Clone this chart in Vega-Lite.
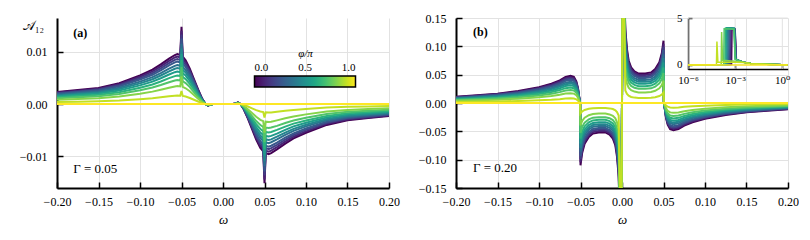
{
"$schema": "https://vega.github.io/schema/vega-lite/v6.json",
"background": "white",
"padding": {"left": 19, "top": 12, "right": 0, "bottom": 0},
"spacing": 18,
"config": {
  "font": "Liberation Serif, DejaVu Serif, serif",
  "view": {"stroke": null},
  "axis": {"labelFont": "Liberation Serif, DejaVu Serif, serif", "labelFontSize": 12, "labelColor": "black", "domainColor": "black", "domainWidth": 2, "tickColor": "black", "tickWidth": 1.5, "tickSize": -6, "gridColor": "#e2e2e2", "gridWidth": 1, "titleFont": "Liberation Serif, DejaVu Serif, serif", "titleFontWeight": "normal", "titleFontStyle": "italic", "titleFontSize": 13, "titleColor": "black", "labelFlush": false, "labelOverlap": false},
  "axisX": {"labelPadding": 14, "titlePadding": 6},
  "axisY": {"labelPadding": 16}
},
"resolve": {"scale": {"color": "independent"}},
"datasets": {
"phis": [{"key":"c00","phi":0},{"key":"c01","phi":0.0909},{"key":"c02","phi":0.1818},{"key":"c03","phi":0.2727},{"key":"c04","phi":0.3636},{"key":"c05","phi":0.4545},{"key":"c06","phi":0.5455},{"key":"c07","phi":0.6364},{"key":"c08","phi":0.7273},{"key":"c09","phi":0.8182},{"key":"c10","phi":0.9091},{"key":"c11","phi":1}],
"a": [
{"w":-0.2,"c00":0.0023,"c01":0.00219,"c02":0.00207,"c03":0.00196,"c04":0.00179,"c05":0.00166,"c06":0.0015,"c07":0.00131,"c08":0.0011,"c09":0.00083,"c10":0.00039,"c11":0},
{"w":-0.175,"c00":0.0027,"c01":0.00257,"c02":0.00243,"c03":0.0023,"c04":0.00211,"c05":0.00194,"c06":0.00176,"c07":0.00154,"c08":0.0013,"c09":0.00097,"c10":0.00046,"c11":0},
{"w":-0.15,"c00":0.0031,"c01":0.00295,"c02":0.00279,"c03":0.00264,"c04":0.00242,"c05":0.00223,"c06":0.00202,"c07":0.00177,"c08":0.00149,"c09":0.00112,"c10":0.00053,"c11":0},
{"w":-0.125,"c00":0.004,"c01":0.0038,"c02":0.0036,"c03":0.0034,"c04":0.00312,"c05":0.00288,"c06":0.0026,"c07":0.00228,"c08":0.00192,"c09":0.00144,"c10":0.00068,"c11":0},
{"w":-0.1,"c00":0.0055,"c01":0.00523,"c02":0.00495,"c03":0.00468,"c04":0.00429,"c05":0.00396,"c06":0.00358,"c07":0.00314,"c08":0.00264,"c09":0.00198,"c10":0.00094,"c11":0},
{"w":-0.085,"c00":0.0066,"c01":0.00627,"c02":0.00594,"c03":0.00561,"c04":0.00515,"c05":0.00475,"c06":0.00429,"c07":0.00376,"c08":0.00317,"c09":0.00238,"c10":0.00112,"c11":0},
{"w":-0.075,"c00":0.0076,"c01":0.00722,"c02":0.00684,"c03":0.00646,"c04":0.00593,"c05":0.00547,"c06":0.00494,"c07":0.00433,"c08":0.00365,"c09":0.00274,"c10":0.00129,"c11":0},
{"w":-0.065,"c00":0.0087,"c01":0.00827,"c02":0.00783,"c03":0.0074,"c04":0.00679,"c05":0.00626,"c06":0.00566,"c07":0.00496,"c08":0.00418,"c09":0.00313,"c10":0.00148,"c11":0},
{"w":-0.058,"c00":0.0094,"c01":0.00893,"c02":0.00846,"c03":0.00799,"c04":0.00733,"c05":0.00677,"c06":0.00611,"c07":0.00536,"c08":0.00451,"c09":0.00338,"c10":0.0016,"c11":0},
{"w":-0.055,"c00":0.0096,"c01":0.00912,"c02":0.00864,"c03":0.00816,"c04":0.00749,"c05":0.00691,"c06":0.00624,"c07":0.00547,"c08":0.00461,"c09":0.00346,"c10":0.00163,"c11":0},
{"w":-0.0515,"c00":0.0094,"c01":0.00893,"c02":0.00846,"c03":0.00799,"c04":0.00733,"c05":0.00677,"c06":0.00611,"c07":0.00536,"c08":0.00451,"c09":0.00338,"c10":0.0016,"c11":0},
{"w":-0.05,"c00":0.0148,"c01":0.01406,"c02":0.01332,"c03":0.01258,"c04":0.01154,"c05":0.01066,"c06":0.00962,"c07":0.00844,"c08":0.0071,"c09":0.00533,"c10":0.00252,"c11":0},
{"w":-0.0485,"c00":0.0091,"c01":0.00865,"c02":0.00819,"c03":0.00774,"c04":0.0071,"c05":0.00655,"c06":0.00592,"c07":0.00519,"c08":0.00437,"c09":0.00328,"c10":0.00155,"c11":0},
{"w":-0.045,"c00":0.0084,"c01":0.00798,"c02":0.00756,"c03":0.00714,"c04":0.00655,"c05":0.00605,"c06":0.00546,"c07":0.00479,"c08":0.00403,"c09":0.00302,"c10":0.00143,"c11":0},
{"w":-0.04,"c00":0.0068,"c01":0.00646,"c02":0.00612,"c03":0.00578,"c04":0.0053,"c05":0.0049,"c06":0.00442,"c07":0.00388,"c08":0.00326,"c09":0.00245,"c10":0.00116,"c11":0},
{"w":-0.035,"c00":0.0048,"c01":0.00456,"c02":0.00432,"c03":0.00408,"c04":0.00374,"c05":0.00346,"c06":0.00312,"c07":0.00274,"c08":0.0023,"c09":0.00173,"c10":0.00082,"c11":0},
{"w":-0.03,"c00":0.0028,"c01":0.00266,"c02":0.00252,"c03":0.00238,"c04":0.00218,"c05":0.00202,"c06":0.00182,"c07":0.0016,"c08":0.00134,"c09":0.00101,"c10":0.00048,"c11":0},
{"w":-0.025,"c00":0.001,"c01":0.00095,"c02":0.0009,"c03":0.00085,"c04":0.00078,"c05":0.00072,"c06":0.00065,"c07":0.00057,"c08":0.00048,"c09":0.00036,"c10":0.00017,"c11":0},
{"w":-0.021,"c00":0,"c01":0,"c02":0,"c03":0,"c04":0,"c05":0,"c06":0,"c07":0,"c08":0,"c09":0,"c10":0,"c11":0},
{"w":-0.018,"c00":-0.0003,"c01":-0.00029,"c02":-0.00027,"c03":-0.00026,"c04":-0.00023,"c05":-0.00022,"c06":-0.0002,"c07":-0.00017,"c08":-0.00014,"c09":-0.00011,"c10":-0.00005,"c11":0},
{"w":-0.015,"c00":-0.0001,"c01":-0.0001,"c02":-0.00009,"c03":-0.00009,"c04":-0.00008,"c05":-0.00007,"c06":-0.00007,"c07":-0.00006,"c08":-0.00005,"c09":-0.00004,"c10":-0.00002,"c11":0},
{"w":-0.012,"c00":0,"c01":0,"c02":0,"c03":0,"c04":0,"c05":0,"c06":0,"c07":0,"c08":0,"c09":0,"c10":0,"c11":0},
{"w":0,"c00":0,"c01":0,"c02":0,"c03":0,"c04":0,"c05":0,"c06":0,"c07":0,"c08":0,"c09":0,"c10":0,"c11":0},
{"w":0.012,"c00":0,"c01":0,"c02":0,"c03":0,"c04":0,"c05":0,"c06":0,"c07":0,"c08":0,"c09":0,"c10":0,"c11":0},
{"w":0.015,"c00":0.0001,"c01":0.0001,"c02":0.00009,"c03":0.00009,"c04":0.00008,"c05":0.00007,"c06":0.00007,"c07":0.00006,"c08":0.00005,"c09":0.00004,"c10":0.00002,"c11":0},
{"w":0.018,"c00":0.0003,"c01":0.00029,"c02":0.00027,"c03":0.00026,"c04":0.00023,"c05":0.00022,"c06":0.0002,"c07":0.00017,"c08":0.00014,"c09":0.00011,"c10":0.00005,"c11":0},
{"w":0.021,"c00":0,"c01":0,"c02":0,"c03":0,"c04":0,"c05":0,"c06":0,"c07":0,"c08":0,"c09":0,"c10":0,"c11":0},
{"w":0.025,"c00":-0.001,"c01":-0.00095,"c02":-0.0009,"c03":-0.00085,"c04":-0.00078,"c05":-0.00072,"c06":-0.00065,"c07":-0.00057,"c08":-0.00048,"c09":-0.00036,"c10":-0.00017,"c11":0},
{"w":0.03,"c00":-0.0028,"c01":-0.00266,"c02":-0.00252,"c03":-0.00238,"c04":-0.00218,"c05":-0.00202,"c06":-0.00182,"c07":-0.0016,"c08":-0.00134,"c09":-0.00101,"c10":-0.00048,"c11":0},
{"w":0.035,"c00":-0.0048,"c01":-0.00456,"c02":-0.00432,"c03":-0.00408,"c04":-0.00374,"c05":-0.00346,"c06":-0.00312,"c07":-0.00274,"c08":-0.0023,"c09":-0.00173,"c10":-0.00082,"c11":0},
{"w":0.04,"c00":-0.0068,"c01":-0.00646,"c02":-0.00612,"c03":-0.00578,"c04":-0.0053,"c05":-0.0049,"c06":-0.00442,"c07":-0.00388,"c08":-0.00326,"c09":-0.00245,"c10":-0.00116,"c11":0},
{"w":0.045,"c00":-0.0084,"c01":-0.00798,"c02":-0.00756,"c03":-0.00714,"c04":-0.00655,"c05":-0.00605,"c06":-0.00546,"c07":-0.00479,"c08":-0.00403,"c09":-0.00302,"c10":-0.00143,"c11":0},
{"w":0.0485,"c00":-0.0091,"c01":-0.00865,"c02":-0.00819,"c03":-0.00774,"c04":-0.0071,"c05":-0.00655,"c06":-0.00592,"c07":-0.00519,"c08":-0.00437,"c09":-0.00328,"c10":-0.00155,"c11":0},
{"w":0.05,"c00":-0.0152,"c01":-0.01444,"c02":-0.01368,"c03":-0.01292,"c04":-0.01186,"c05":-0.01094,"c06":-0.00988,"c07":-0.00866,"c08":-0.0073,"c09":-0.00547,"c10":-0.00258,"c11":0},
{"w":0.0515,"c00":-0.0094,"c01":-0.00893,"c02":-0.00846,"c03":-0.00799,"c04":-0.00733,"c05":-0.00677,"c06":-0.00611,"c07":-0.00536,"c08":-0.00451,"c09":-0.00338,"c10":-0.0016,"c11":0},
{"w":0.055,"c00":-0.0096,"c01":-0.00912,"c02":-0.00864,"c03":-0.00816,"c04":-0.00749,"c05":-0.00691,"c06":-0.00624,"c07":-0.00547,"c08":-0.00461,"c09":-0.00346,"c10":-0.00163,"c11":0},
{"w":0.058,"c00":-0.0094,"c01":-0.00893,"c02":-0.00846,"c03":-0.00799,"c04":-0.00733,"c05":-0.00677,"c06":-0.00611,"c07":-0.00536,"c08":-0.00451,"c09":-0.00338,"c10":-0.0016,"c11":0},
{"w":0.065,"c00":-0.0087,"c01":-0.00827,"c02":-0.00783,"c03":-0.0074,"c04":-0.00679,"c05":-0.00626,"c06":-0.00566,"c07":-0.00496,"c08":-0.00418,"c09":-0.00313,"c10":-0.00148,"c11":0},
{"w":0.075,"c00":-0.0076,"c01":-0.00722,"c02":-0.00684,"c03":-0.00646,"c04":-0.00593,"c05":-0.00547,"c06":-0.00494,"c07":-0.00433,"c08":-0.00365,"c09":-0.00274,"c10":-0.00129,"c11":0},
{"w":0.085,"c00":-0.0066,"c01":-0.00627,"c02":-0.00594,"c03":-0.00561,"c04":-0.00515,"c05":-0.00475,"c06":-0.00429,"c07":-0.00376,"c08":-0.00317,"c09":-0.00238,"c10":-0.00112,"c11":0},
{"w":0.1,"c00":-0.0055,"c01":-0.00523,"c02":-0.00495,"c03":-0.00468,"c04":-0.00429,"c05":-0.00396,"c06":-0.00358,"c07":-0.00314,"c08":-0.00264,"c09":-0.00198,"c10":-0.00094,"c11":0},
{"w":0.125,"c00":-0.004,"c01":-0.0038,"c02":-0.0036,"c03":-0.0034,"c04":-0.00312,"c05":-0.00288,"c06":-0.0026,"c07":-0.00228,"c08":-0.00192,"c09":-0.00144,"c10":-0.00068,"c11":0},
{"w":0.15,"c00":-0.0031,"c01":-0.00295,"c02":-0.00279,"c03":-0.00264,"c04":-0.00242,"c05":-0.00223,"c06":-0.00202,"c07":-0.00177,"c08":-0.00149,"c09":-0.00112,"c10":-0.00053,"c11":0},
{"w":0.175,"c00":-0.0027,"c01":-0.00257,"c02":-0.00243,"c03":-0.0023,"c04":-0.00211,"c05":-0.00194,"c06":-0.00176,"c07":-0.00154,"c08":-0.0013,"c09":-0.00097,"c10":-0.00046,"c11":0},
{"w":0.2,"c00":-0.0023,"c01":-0.00219,"c02":-0.00207,"c03":-0.00196,"c04":-0.00179,"c05":-0.00166,"c06":-0.0015,"c07":-0.00131,"c08":-0.0011,"c09":-0.00083,"c10":-0.00039,"c11":0}
],
"b": [
{"w":-0.2,"c00":0.011,"c01":0.0105,"c02":0.0099,"c03":0.0094,"c04":0.0086,"c05":0.0079,"c06":0.0072,"c07":0.0063,"c08":0.0053,"c09":0.004,"c10":0.0019,"c11":0},
{"w":-0.175,"c00":0.0135,"c01":0.0128,"c02":0.0122,"c03":0.0115,"c04":0.0105,"c05":0.0097,"c06":0.0088,"c07":0.0077,"c08":0.0065,"c09":0.0049,"c10":0.0023,"c11":0},
{"w":-0.15,"c00":0.0165,"c01":0.0157,"c02":0.0149,"c03":0.014,"c04":0.0129,"c05":0.0119,"c06":0.0107,"c07":0.0094,"c08":0.0079,"c09":0.0059,"c10":0.0028,"c11":0},
{"w":-0.125,"c00":0.021,"c01":0.02,"c02":0.0189,"c03":0.0179,"c04":0.0164,"c05":0.0151,"c06":0.0137,"c07":0.012,"c08":0.0101,"c09":0.0076,"c10":0.0036,"c11":0},
{"w":-0.1,"c00":0.028,"c01":0.0266,"c02":0.0252,"c03":0.0238,"c04":0.0218,"c05":0.0202,"c06":0.0182,"c07":0.016,"c08":0.0134,"c09":0.0101,"c10":0.0048,"c11":0},
{"w":-0.085,"c00":0.034,"c01":0.0323,"c02":0.0306,"c03":0.0289,"c04":0.0265,"c05":0.0245,"c06":0.0221,"c07":0.0194,"c08":0.0163,"c09":0.0122,"c10":0.0058,"c11":0},
{"w":-0.075,"c00":0.04,"c01":0.038,"c02":0.036,"c03":0.034,"c04":0.0312,"c05":0.0288,"c06":0.026,"c07":0.0228,"c08":0.0192,"c09":0.0144,"c10":0.0068,"c11":0},
{"w":-0.068,"c00":0.046,"c01":0.0437,"c02":0.0414,"c03":0.0391,"c04":0.0359,"c05":0.0331,"c06":0.0299,"c07":0.0262,"c08":0.0221,"c09":0.0166,"c10":0.0078,"c11":0},
{"w":-0.062,"c00":0.048,"c01":0.0456,"c02":0.0432,"c03":0.0408,"c04":0.0374,"c05":0.0346,"c06":0.0312,"c07":0.0274,"c08":0.023,"c09":0.0173,"c10":0.0082,"c11":0},
{"w":-0.058,"c00":0.046,"c01":0.0437,"c02":0.0414,"c03":0.0391,"c04":0.0359,"c05":0.0331,"c06":0.0299,"c07":0.0262,"c08":0.0221,"c09":0.0166,"c10":0.0078,"c11":0},
{"w":-0.055,"c00":0.038,"c01":0.0361,"c02":0.0342,"c03":0.0323,"c04":0.0296,"c05":0.0274,"c06":0.0247,"c07":0.0217,"c08":0.0182,"c09":0.0137,"c10":0.0065,"c11":0},
{"w":-0.053,"c00":0.026,"c01":0.0247,"c02":0.0234,"c03":0.0221,"c04":0.0203,"c05":0.0187,"c06":0.0169,"c07":0.0148,"c08":0.0125,"c09":0.0094,"c10":0.0044,"c11":0},
{"w":-0.0515,"c00":0.01,"c01":0.0095,"c02":0.009,"c03":0.0085,"c04":0.0078,"c05":0.0072,"c06":0.0065,"c07":0.0057,"c08":0.0048,"c09":0.0036,"c10":0.0017,"c11":0},
{"w":-0.0505,"c00":0,"c01":0,"c02":0,"c03":0,"c04":0,"c05":0,"c06":0,"c07":0,"c08":0,"c09":0,"c10":0,"c11":0},
{"w":-0.05,"c00":-0.11,"c01":-0.1045,"c02":-0.099,"c03":-0.0935,"c04":-0.0858,"c05":-0.0792,"c06":-0.0715,"c07":-0.0627,"c08":-0.0528,"c09":-0.0396,"c10":-0.0187,"c11":0},
{"w":-0.048,"c00":-0.088,"c01":-0.0836,"c02":-0.0792,"c03":-0.0748,"c04":-0.0686,"c05":-0.0634,"c06":-0.0572,"c07":-0.0502,"c08":-0.0422,"c09":-0.0317,"c10":-0.015,"c11":0},
{"w":-0.045,"c00":-0.072,"c01":-0.0684,"c02":-0.0648,"c03":-0.0612,"c04":-0.0562,"c05":-0.0518,"c06":-0.0468,"c07":-0.041,"c08":-0.0346,"c09":-0.0259,"c10":-0.0122,"c11":0},
{"w":-0.04,"c00":-0.06,"c01":-0.057,"c02":-0.054,"c03":-0.051,"c04":-0.0468,"c05":-0.0432,"c06":-0.039,"c07":-0.0342,"c08":-0.0288,"c09":-0.0216,"c10":-0.0102,"c11":0},
{"w":-0.035,"c00":-0.054,"c01":-0.0513,"c02":-0.0486,"c03":-0.0459,"c04":-0.0421,"c05":-0.0389,"c06":-0.0351,"c07":-0.0308,"c08":-0.0259,"c09":-0.0194,"c10":-0.0092,"c11":0},
{"w":-0.028,"c00":-0.052,"c01":-0.0494,"c02":-0.0468,"c03":-0.0442,"c04":-0.0406,"c05":-0.0374,"c06":-0.0338,"c07":-0.0296,"c08":-0.025,"c09":-0.0187,"c10":-0.0088,"c11":0},
{"w":-0.02,"c00":-0.052,"c01":-0.0494,"c02":-0.0468,"c03":-0.0442,"c04":-0.0406,"c05":-0.0374,"c06":-0.0338,"c07":-0.0296,"c08":-0.025,"c09":-0.0187,"c10":-0.0088,"c11":0},
{"w":-0.015,"c00":-0.056,"c01":-0.0532,"c02":-0.0504,"c03":-0.0476,"c04":-0.0437,"c05":-0.0403,"c06":-0.0364,"c07":-0.0319,"c08":-0.0269,"c09":-0.0202,"c10":-0.0095,"c11":0},
{"w":-0.011,"c00":-0.063,"c01":-0.0599,"c02":-0.0567,"c03":-0.0536,"c04":-0.0491,"c05":-0.0454,"c06":-0.041,"c07":-0.0359,"c08":-0.0302,"c09":-0.0227,"c10":-0.0107,"c11":0},
{"w":-0.008,"c00":-0.075,"c01":-0.0713,"c02":-0.0675,"c03":-0.0638,"c04":-0.0585,"c05":-0.054,"c06":-0.0488,"c07":-0.0428,"c08":-0.036,"c09":-0.027,"c10":-0.0128,"c11":0},
{"w":-0.006,"c00":-0.095,"c01":-0.0903,"c02":-0.0855,"c03":-0.0808,"c04":-0.0741,"c05":-0.0684,"c06":-0.0618,"c07":-0.0542,"c08":-0.0456,"c09":-0.0342,"c10":-0.0162,"c11":0},
{"w":-0.004,"c00":-0.13,"c01":-0.1235,"c02":-0.117,"c03":-0.1105,"c04":-0.1014,"c05":-0.0936,"c06":-0.0845,"c07":-0.0741,"c08":-0.0624,"c09":-0.0468,"c10":-0.0221,"c11":0},
{"w":-0.001,"c00":-0.3,"c01":-0.3,"c02":-0.3,"c03":-0.3,"c04":-0.3,"c05":-0.3,"c06":-0.3,"c07":-0.3,"c08":-0.3,"c09":-0.3,"c10":-0.3,"c11":0},
{"w":0.001,"c00":0.3,"c01":0.3,"c02":0.3,"c03":0.3,"c04":0.3,"c05":0.3,"c06":0.3,"c07":0.3,"c08":0.3,"c09":0.3,"c10":0.3,"c11":0},
{"w":0.004,"c00":0.13,"c01":0.1235,"c02":0.117,"c03":0.1105,"c04":0.1014,"c05":0.0936,"c06":0.0845,"c07":0.0741,"c08":0.0624,"c09":0.0468,"c10":0.0221,"c11":0},
{"w":0.006,"c00":0.095,"c01":0.0903,"c02":0.0855,"c03":0.0808,"c04":0.0741,"c05":0.0684,"c06":0.0618,"c07":0.0542,"c08":0.0456,"c09":0.0342,"c10":0.0162,"c11":0},
{"w":0.008,"c00":0.075,"c01":0.0713,"c02":0.0675,"c03":0.0638,"c04":0.0585,"c05":0.054,"c06":0.0488,"c07":0.0428,"c08":0.036,"c09":0.027,"c10":0.0128,"c11":0},
{"w":0.011,"c00":0.063,"c01":0.0599,"c02":0.0567,"c03":0.0536,"c04":0.0491,"c05":0.0454,"c06":0.041,"c07":0.0359,"c08":0.0302,"c09":0.0227,"c10":0.0107,"c11":0},
{"w":0.015,"c00":0.056,"c01":0.0532,"c02":0.0504,"c03":0.0476,"c04":0.0437,"c05":0.0403,"c06":0.0364,"c07":0.0319,"c08":0.0269,"c09":0.0202,"c10":0.0095,"c11":0},
{"w":0.02,"c00":0.052,"c01":0.0494,"c02":0.0468,"c03":0.0442,"c04":0.0406,"c05":0.0374,"c06":0.0338,"c07":0.0296,"c08":0.025,"c09":0.0187,"c10":0.0088,"c11":0},
{"w":0.028,"c00":0.052,"c01":0.0494,"c02":0.0468,"c03":0.0442,"c04":0.0406,"c05":0.0374,"c06":0.0338,"c07":0.0296,"c08":0.025,"c09":0.0187,"c10":0.0088,"c11":0},
{"w":0.035,"c00":0.054,"c01":0.0513,"c02":0.0486,"c03":0.0459,"c04":0.0421,"c05":0.0389,"c06":0.0351,"c07":0.0308,"c08":0.0259,"c09":0.0194,"c10":0.0092,"c11":0},
{"w":0.04,"c00":0.06,"c01":0.057,"c02":0.054,"c03":0.051,"c04":0.0468,"c05":0.0432,"c06":0.039,"c07":0.0342,"c08":0.0288,"c09":0.0216,"c10":0.0102,"c11":0},
{"w":0.045,"c00":0.072,"c01":0.0684,"c02":0.0648,"c03":0.0612,"c04":0.0562,"c05":0.0518,"c06":0.0468,"c07":0.041,"c08":0.0346,"c09":0.0259,"c10":0.0122,"c11":0},
{"w":0.048,"c00":0.088,"c01":0.0836,"c02":0.0792,"c03":0.0748,"c04":0.0686,"c05":0.0634,"c06":0.0572,"c07":0.0502,"c08":0.0422,"c09":0.0317,"c10":0.015,"c11":0},
{"w":0.05,"c00":0.11,"c01":0.1045,"c02":0.099,"c03":0.0935,"c04":0.0858,"c05":0.0792,"c06":0.0715,"c07":0.0627,"c08":0.0528,"c09":0.0396,"c10":0.0187,"c11":0},
{"w":0.0505,"c00":0,"c01":0,"c02":0,"c03":0,"c04":0,"c05":0,"c06":0,"c07":0,"c08":0,"c09":0,"c10":0,"c11":0},
{"w":0.0515,"c00":-0.01,"c01":-0.0095,"c02":-0.009,"c03":-0.0085,"c04":-0.0078,"c05":-0.0072,"c06":-0.0065,"c07":-0.0057,"c08":-0.0048,"c09":-0.0036,"c10":-0.0017,"c11":0},
{"w":0.053,"c00":-0.026,"c01":-0.0247,"c02":-0.0234,"c03":-0.0221,"c04":-0.0203,"c05":-0.0187,"c06":-0.0169,"c07":-0.0148,"c08":-0.0125,"c09":-0.0094,"c10":-0.0044,"c11":0},
{"w":0.055,"c00":-0.038,"c01":-0.0361,"c02":-0.0342,"c03":-0.0323,"c04":-0.0296,"c05":-0.0274,"c06":-0.0247,"c07":-0.0217,"c08":-0.0182,"c09":-0.0137,"c10":-0.0065,"c11":0},
{"w":0.058,"c00":-0.046,"c01":-0.0437,"c02":-0.0414,"c03":-0.0391,"c04":-0.0359,"c05":-0.0331,"c06":-0.0299,"c07":-0.0262,"c08":-0.0221,"c09":-0.0166,"c10":-0.0078,"c11":0},
{"w":0.062,"c00":-0.048,"c01":-0.0456,"c02":-0.0432,"c03":-0.0408,"c04":-0.0374,"c05":-0.0346,"c06":-0.0312,"c07":-0.0274,"c08":-0.023,"c09":-0.0173,"c10":-0.0082,"c11":0},
{"w":0.068,"c00":-0.046,"c01":-0.0437,"c02":-0.0414,"c03":-0.0391,"c04":-0.0359,"c05":-0.0331,"c06":-0.0299,"c07":-0.0262,"c08":-0.0221,"c09":-0.0166,"c10":-0.0078,"c11":0},
{"w":0.075,"c00":-0.04,"c01":-0.038,"c02":-0.036,"c03":-0.034,"c04":-0.0312,"c05":-0.0288,"c06":-0.026,"c07":-0.0228,"c08":-0.0192,"c09":-0.0144,"c10":-0.0068,"c11":0},
{"w":0.085,"c00":-0.034,"c01":-0.0323,"c02":-0.0306,"c03":-0.0289,"c04":-0.0265,"c05":-0.0245,"c06":-0.0221,"c07":-0.0194,"c08":-0.0163,"c09":-0.0122,"c10":-0.0058,"c11":0},
{"w":0.1,"c00":-0.028,"c01":-0.0266,"c02":-0.0252,"c03":-0.0238,"c04":-0.0218,"c05":-0.0202,"c06":-0.0182,"c07":-0.016,"c08":-0.0134,"c09":-0.0101,"c10":-0.0048,"c11":0},
{"w":0.125,"c00":-0.021,"c01":-0.02,"c02":-0.0189,"c03":-0.0179,"c04":-0.0164,"c05":-0.0151,"c06":-0.0137,"c07":-0.012,"c08":-0.0101,"c09":-0.0076,"c10":-0.0036,"c11":0},
{"w":0.15,"c00":-0.0165,"c01":-0.0157,"c02":-0.0149,"c03":-0.014,"c04":-0.0129,"c05":-0.0119,"c06":-0.0107,"c07":-0.0094,"c08":-0.0079,"c09":-0.0059,"c10":-0.0028,"c11":0},
{"w":0.175,"c00":-0.0135,"c01":-0.0128,"c02":-0.0122,"c03":-0.0115,"c04":-0.0105,"c05":-0.0097,"c06":-0.0088,"c07":-0.0077,"c08":-0.0065,"c09":-0.0049,"c10":-0.0023,"c11":0},
{"w":0.2,"c00":-0.011,"c01":-0.0105,"c02":-0.0099,"c03":-0.0094,"c04":-0.0086,"c05":-0.0079,"c06":-0.0072,"c07":-0.0063,"c08":-0.0053,"c09":-0.004,"c10":-0.0019,"c11":0}
],
"ins": [
{"key":"c00","x":0.000001,"v":0},{"key":"c00","x":0.000589,"v":0.05},{"key":"c00","x":0.000631,"v":3.8},{"key":"c00","x":0.001,"v":3.75},{"key":"c00","x":0.0012,"v":0.6},{"key":"c00","x":0.00316,"v":0.3},{"key":"c00","x":0.01,"v":0.15},{"key":"c00","x":0.1,"v":0.08},{"key":"c00","x":1,"v":0.03},{"key":"c00","x":2.2,"v":0.02},
{"key":"c01","x":0.000001,"v":0},{"key":"c01","x":0.000513,"v":0.05},{"key":"c01","x":0.00055,"v":3.85},{"key":"c01","x":0.000977,"v":3.8},{"key":"c01","x":0.00117,"v":0.6},{"key":"c01","x":0.00316,"v":0.3},{"key":"c01","x":0.01,"v":0.15},{"key":"c01","x":0.1,"v":0.08},{"key":"c01","x":1,"v":0.03},{"key":"c01","x":2.2,"v":0.02},
{"key":"c02","x":0.000001,"v":0},{"key":"c02","x":0.000447,"v":0.05},{"key":"c02","x":0.000479,"v":3.9},{"key":"c02","x":0.000955,"v":3.85},{"key":"c02","x":0.00115,"v":0.6},{"key":"c02","x":0.00316,"v":0.3},{"key":"c02","x":0.01,"v":0.15},{"key":"c02","x":0.1,"v":0.08},{"key":"c02","x":1,"v":0.03},{"key":"c02","x":2.2,"v":0.02},
{"key":"c03","x":0.000001,"v":0},{"key":"c03","x":0.000389,"v":0.05},{"key":"c03","x":0.000417,"v":3.9},{"key":"c03","x":0.000933,"v":3.85},{"key":"c03","x":0.00112,"v":0.6},{"key":"c03","x":0.00316,"v":0.3},{"key":"c03","x":0.01,"v":0.15},{"key":"c03","x":0.1,"v":0.08},{"key":"c03","x":1,"v":0.03},{"key":"c03","x":2.2,"v":0.02},
{"key":"c04","x":0.000001,"v":0},{"key":"c04","x":0.000339,"v":0.05},{"key":"c04","x":0.000363,"v":3.95},{"key":"c04","x":0.000912,"v":3.9},{"key":"c04","x":0.0011,"v":0.6},{"key":"c04","x":0.00316,"v":0.3},{"key":"c04","x":0.01,"v":0.15},{"key":"c04","x":0.1,"v":0.08},{"key":"c04","x":1,"v":0.03},{"key":"c04","x":2.2,"v":0.02},
{"key":"c05","x":0.000001,"v":0},{"key":"c05","x":0.000295,"v":0.05},{"key":"c05","x":0.000316,"v":3.95},{"key":"c05","x":0.000891,"v":3.9},{"key":"c05","x":0.00107,"v":0.6},{"key":"c05","x":0.00316,"v":0.3},{"key":"c05","x":0.01,"v":0.15},{"key":"c05","x":0.1,"v":0.08},{"key":"c05","x":1,"v":0.03},{"key":"c05","x":2.2,"v":0.02},
{"key":"c06","x":0.000001,"v":0},{"key":"c06","x":0.000257,"v":0.05},{"key":"c06","x":0.000275,"v":3.95},{"key":"c06","x":0.000871,"v":3.9},{"key":"c06","x":0.00105,"v":0.6},{"key":"c06","x":0.00316,"v":0.3},{"key":"c06","x":0.01,"v":0.15},{"key":"c06","x":0.1,"v":0.08},{"key":"c06","x":1,"v":0.03},{"key":"c06","x":2.2,"v":0.02},
{"key":"c07","x":0.000001,"v":0},{"key":"c07","x":0.000224,"v":0.05},{"key":"c07","x":0.00024,"v":3.9},{"key":"c07","x":0.000851,"v":3.85},{"key":"c07","x":0.00102,"v":0.6},{"key":"c07","x":0.00316,"v":0.3},{"key":"c07","x":0.01,"v":0.15},{"key":"c07","x":0.1,"v":0.08},{"key":"c07","x":1,"v":0.03},{"key":"c07","x":2.2,"v":0.02},
{"key":"c08","x":0.000001,"v":0},{"key":"c08","x":0.000186,"v":0.05},{"key":"c08","x":0.0002,"v":3.85},{"key":"c08","x":0.000832,"v":3.8},{"key":"c08","x":0.001,"v":0.6},{"key":"c08","x":0.00316,"v":0.3},{"key":"c08","x":0.01,"v":0.15},{"key":"c08","x":0.1,"v":0.08},{"key":"c08","x":1,"v":0.03},{"key":"c08","x":2.2,"v":0.02},
{"key":"c09","x":0.000001,"v":0},{"key":"c09","x":0.000129,"v":0.05},{"key":"c09","x":0.000138,"v":3.5},{"key":"c09","x":0.000158,"v":0.5},{"key":"c09","x":0.001,"v":0.4},{"key":"c09","x":0.00316,"v":0.3},{"key":"c09","x":0.01,"v":0.15},{"key":"c09","x":0.1,"v":0.08},{"key":"c09","x":1,"v":0.03},{"key":"c09","x":2.2,"v":0.02},
{"key":"c10","x":0.000001,"v":0},{"key":"c10","x":0.0000646,"v":0.05},{"key":"c10","x":0.0000692,"v":2.5},{"key":"c10","x":0.0000794,"v":0.3},{"key":"c10","x":0.001,"v":0.3},{"key":"c10","x":0.00316,"v":0.25},{"key":"c10","x":0.01,"v":0.15},{"key":"c10","x":0.1,"v":0.08},{"key":"c10","x":1,"v":0.03},{"key":"c10","x":2.2,"v":0.02},
{"key":"c11","x":0.000001,"v":0},{"key":"c11","x":2.2,"v":0}
]
},
"hconcat": [
{
 "width": 332, "height": 170,
 "layer": [
  {
   "data": {"name": "a"},
   "transform": [
     {"fold": ["c00","c01","c02","c03","c04","c05","c06","c07","c08","c09","c10","c11"], "as": ["key","v"]},
     {"lookup": "key", "from": {"data": {"name": "phis"}, "key": "key", "fields": ["phi"]}}
   ],
   "mark": {"type": "line", "strokeWidth": 2, "clip": true},
   "encoding": {
     "x": {"field": "w", "type": "quantitative", "scale": {"domain": [-0.2, 0.2], "nice": false, "zero": false}, "axis": {"title": "ω", "values": [-0.2,-0.15,-0.1,-0.05,0,0.05,0.1,0.15,0.2], "format": ".2f", "labelOverlap": false}},
     "y": {"field": "v", "type": "quantitative", "scale": {"domain": [-0.0161, 0.0165], "nice": false, "zero": false}, "axis": {"title": "𝒜₁₂", "titleAngle": 0, "titleX": -24, "titleY": 7, "titleAlign": "center", "titleBaseline": "middle", "titleFontStyle": "normal", "values": [-0.01, 0, 0.01], "format": ".2f", "labelOverlap": false}},
     "color": {"field": "phi", "type": "quantitative", "scale": {"scheme": "viridis", "domain": [0, 1]},
       "legend": {"orient": "none", "legendX": 197.5, "legendY": 30, "direction": "horizontal", "gradientLength": 101, "gradientThickness": 11, "title": "φ/π", "titleFont": "Liberation Serif, DejaVu Serif, serif", "titleFontStyle": "italic", "titleFontWeight": "normal", "titleFontSize": 11, "titleColor": "black", "titleAnchor": "middle", "titlePadding": 17, "values": [0, 0.5, 1], "format": ".1f", "labelFont": "Liberation Serif, DejaVu Serif, serif", "labelFontSize": 11, "labelColor": "black", "labelOffset": -25, "gradientStrokeColor": "black", "gradientStrokeWidth": 1.5, "padding": 0}},
     "detail": {"field": "key"}
   }
  },
  {
   "data": {"values": [{"t": "(a)"}]},
   "mark": {"type": "text", "align": "left", "baseline": "middle", "fontWeight": "bold", "fontSize": 12, "font": "Liberation Serif, DejaVu Serif, serif", "color": "black"},
   "encoding": {"x": {"datum": -0.1805}, "y": {"datum": 0.0136}, "text": {"field": "t"}}
  },
  {
   "data": {"values": [{"t": "Γ = 0.05"}]},
   "mark": {"type": "text", "align": "left", "baseline": "middle", "fontSize": 13, "font": "Liberation Serif, DejaVu Serif, serif", "color": "black"},
   "encoding": {"x": {"datum": -0.1805}, "y": {"datum": -0.01245}, "text": {"field": "t"}}
  }
 ]
},
{
 "width": 332, "height": 170,
 "resolve": {"scale": {"x": "independent", "y": "independent"}},
 "layer": [
  {
   "data": {"name": "b"},
   "transform": [
     {"fold": ["c00","c01","c02","c03","c04","c05","c06","c07","c08","c09","c10","c11"], "as": ["key","v"]},
     {"lookup": "key", "from": {"data": {"name": "phis"}, "key": "key", "fields": ["phi"]}}
   ],
   "mark": {"type": "line", "strokeWidth": 2, "clip": true},
   "encoding": {
     "x": {"field": "w", "type": "quantitative", "scale": {"domain": [-0.2, 0.2], "nice": false, "zero": false}, "axis": {"title": "ω", "orient": "bottom", "values": [-0.2,-0.15,-0.1,-0.05,0,0.05,0.1,0.15,0.2], "format": ".2f", "labelOverlap": false}},
     "y": {"field": "v", "type": "quantitative", "scale": {"domain": [-0.15, 0.15], "nice": false, "zero": false}, "axis": {"title": null, "orient": "left", "values": [-0.15,-0.1,-0.05,0,0.05,0.1,0.15], "format": ".2f", "labelOverlap": false}},
     "color": {"field": "phi", "type": "quantitative", "scale": {"scheme": "viridis", "domain": [0, 1]}, "legend": null},
     "detail": {"field": "key"}
   }
  },
  {
   "data": {"values": [{"t": "(b)"}]},
   "mark": {"type": "text", "align": "left", "baseline": "middle", "fontWeight": "bold", "fontSize": 12, "font": "Liberation Serif, DejaVu Serif, serif", "color": "black"},
   "encoding": {"x": {"datum": -0.1795, "scale": {"domain": [-0.2, 0.2], "nice": false, "zero": false}, "axis": null}, "y": {"datum": 0.1253, "scale": {"domain": [-0.15, 0.15], "nice": false, "zero": false}, "axis": null}, "text": {"field": "t"}}
  },
  {
   "data": {"values": [{"t": "Γ = 0.20"}]},
   "mark": {"type": "text", "align": "left", "baseline": "middle", "fontSize": 13, "font": "Liberation Serif, DejaVu Serif, serif", "color": "black"},
   "encoding": {"x": {"datum": -0.1795, "scale": {"domain": [-0.2, 0.2], "nice": false, "zero": false}, "axis": null}, "y": {"datum": -0.1147, "scale": {"domain": [-0.15, 0.15], "nice": false, "zero": false}, "axis": null}, "text": {"field": "t"}}
  },
  {
   "data": {"values": [{"x": 0.000001}, {"x": 0.001}, {"x": 1}]},
   "mark": {"type": "rule", "color": "#e2e2e2", "strokeWidth": 1},
   "encoding": {"x": {"field": "x", "type": "quantitative", "scale": {"type": "log", "domain": [0.000001, 2.2], "range": [232, 331.7], "nice": false}, "axis": null}, "y": {"datum": -0.43, "scale": {"domain": [-0.43, 5], "range": [51, 0], "nice": false, "zero": false}, "axis": null}, "y2": {"datum": 5}}
  },
  {
   "data": {"values": [{"v": 0}, {"v": 5}]},
   "mark": {"type": "rule", "color": "#e2e2e2", "strokeWidth": 1},
   "encoding": {"y": {"field": "v", "type": "quantitative", "scale": {"domain": [-0.43, 5], "range": [51, 0], "nice": false, "zero": false}, "axis": null}, "x": {"datum": 0.000001, "scale": {"type": "log", "domain": [0.000001, 2.2], "range": [232, 331.7], "nice": false}, "axis": null}, "x2": {"datum": 2.2}}
  },
  {
   "data": {"name": "ins"},
   "transform": [{"lookup": "key", "from": {"data": {"name": "phis"}, "key": "key", "fields": ["phi"]}}],
   "mark": {"type": "line", "strokeWidth": 1.5},
   "encoding": {
     "x": {"field": "x", "type": "quantitative", "scale": {"type": "log", "domain": [0.000001, 2.2], "range": [232, 331.7], "nice": false}, "axis": {"orient": "bottom", "offset": -119, "values": [0.000001, 0.001, 1], "labelExpr": "datum.value < 0.00001 ? '10⁻⁶' : datum.value < 0.01 ? '10⁻³' : '10⁰'", "grid": false, "title": null, "tickSize": -4, "labelPadding": 9, "labelFontSize": 11, "domainWidth": 1.5, "labelOverlap": false}},
     "y": {"field": "v", "type": "quantitative", "scale": {"domain": [-0.43, 5], "range": [51, 0], "nice": false, "zero": false}, "axis": {"orient": "right", "offset": -100, "values": [0, 5], "grid": false, "title": null, "tickSize": 4, "labelPadding": -10, "labelAlign": "right", "labelFontSize": 11, "domainWidth": 1.5, "labelOverlap": false}},
     "color": {"field": "phi", "type": "quantitative", "scale": {"scheme": "viridis", "domain": [0, 1]}, "legend": null},
     "detail": {"field": "key"}
   }
  }
 ]
}
]
}
